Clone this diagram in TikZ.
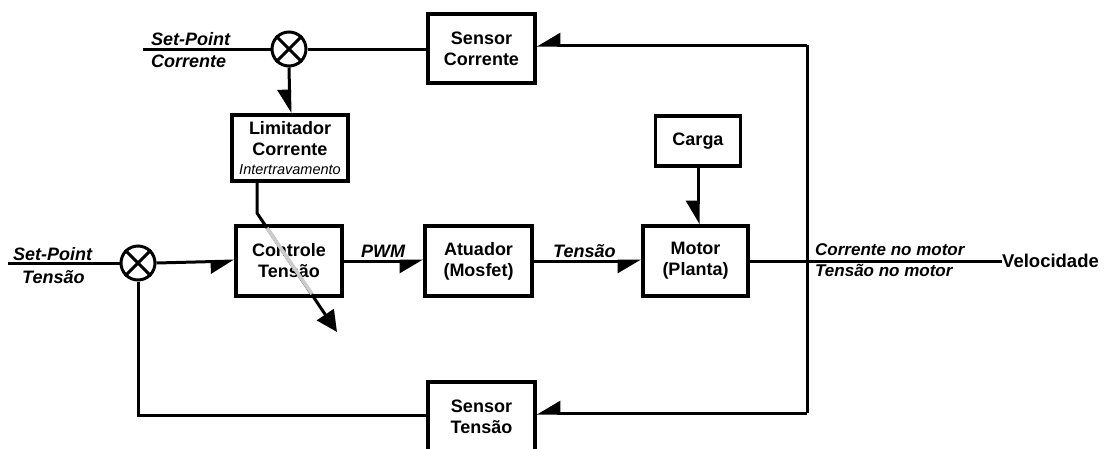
\documentclass[tikz,border=0pt]{standalone}
\usepackage{fontspec}
\setmainfont{Liberation Sans}
\usetikzlibrary{arrows.meta}
\begin{document}
\begin{tikzpicture}[x=1pt,y=-1pt,
  blk/.style={draw,line width=3.6pt,align=center,inner sep=0pt,font=\fontsize{18}{21}\selectfont\bfseries},
  sumj/.style={draw,circle,line width=3pt,minimum size=34pt,inner sep=0pt},
  conn/.style={line width=3pt},
  harp/.style={-{Triangle[harpoon,swap,length=21pt,width=24pt]}},
  lbl/.style={inner sep=0pt,font=\fontsize{18}{21}\selectfont\bfseries\itshape},
]
\useasboundingbox (0,0) rectangle (1104,448);
\clip (0,0) rectangle (1104,448);

% blocks
\node[blk,minimum width=107pt,minimum height=69pt] (sc) at (481.5,48.5) {Sensor\\Corrente};
\node[blk,minimum width=116pt,minimum height=66pt] (lim) at (290,148) {Limitador\\Corrente\\[-2pt]{\fontsize{14.5}{16}\selectfont\mdseries\itshape Intertravamento}};
\node[blk,minimum width=85pt,minimum height=50pt] (car) at (698,141) {Carga};
\node[blk,minimum width=106pt,minimum height=70pt] (ctl) at (289,261) {Controle\\Tens\~ao};
\node[blk,minimum width=107pt,minimum height=70pt] (atu) at (478.5,261) {Atuador\\(Mosfet)};
\node[blk,minimum width=105pt,minimum height=70pt] (mot) at (695.5,261) {Motor\\(Planta)};
\node[blk,minimum width=107pt,minimum height=70pt] (st) at (481.5,417) {Sensor\\Tens\~ao};

% summing junctions
\node[sumj] (s1) at (289,49) {};
\node[sumj] (s2) at (138,263) {};
\draw[conn] (s1.45) -- (s1.225) (s1.135) -- (s1.315);
\draw[conn] (s2.45) -- (s2.225) (s2.135) -- (s2.315);

% free ends
\coordinate (spc) at (143,49);
\coordinate (spt) at (8,263);
\coordinate (vel) at (1002,261);
\coordinate (tr) at (807,45);
\coordinate (br) at (807,413);
\coordinate (bl) at (138,415);
\coordinate (lk) at (257,213);
\coordinate (lt) at (337,332);

% labels
\node[lbl,anchor=base west] (l1) at (151,45) {Set-Point};
\node[lbl,anchor=base west] (l2) at (151,67) {Corrente};
\node[lbl,anchor=base west] (l3) at (13,260) {Set-Point};
\node[lbl,anchor=base west] (l4) at (22,283) {Tens\~ao};
\node[lbl,anchor=base west] (l5) at (361,257) {PWM};
\node[lbl,anchor=base west] (l6) at (553,257) {Tens\~ao};
\node[lbl,anchor=base west,font=\fontsize{17}{20}\selectfont\bfseries\itshape] (l7) at (815,255) {Corrente no motor};
\node[lbl,anchor=base west,font=\fontsize{17}{20}\selectfont\bfseries\itshape] (l8) at (815,276) {Tens\~ao no motor};
\node[lbl,anchor=west,font=\fontsize{18.5}{21}\selectfont\bfseries] (l9) at (vel) {Velocidade};

% connectors
\draw[conn] (spc) -- (s1.west);
\draw[conn] (s1.east) -- (s1.east -| sc.west);
\draw[conn,harp] (s1.south) -- (lim.north);
\draw[conn] (mot.east) -- (vel);
\draw[conn] (tr) -- (br);
\draw[conn,harp] (tr) -- (tr -| sc.east);
\draw[conn,harp] (br) -- (br -| st.east);
\draw[conn] (s2.south) -- (bl) -- (bl -| st.west);
\draw[conn] (spt) -- (s2.west);
\draw[conn,harp] (s2.east) -- (ctl.west);
\draw[conn,harp] (ctl.east) -- (atu.west);
\draw[conn,harp] (atu.east) -- (mot.west);
\draw[conn,harp] (car.south) -- (car.south |- mot.north);
\draw[conn,-{Triangle[length=21pt,width=20pt]}] (lim.south -| lk) -- (lk) -- (lt);
\draw[line width=3.6pt,gray!40] (267,228) -- (312,294);
\end{tikzpicture}
\end{document}
